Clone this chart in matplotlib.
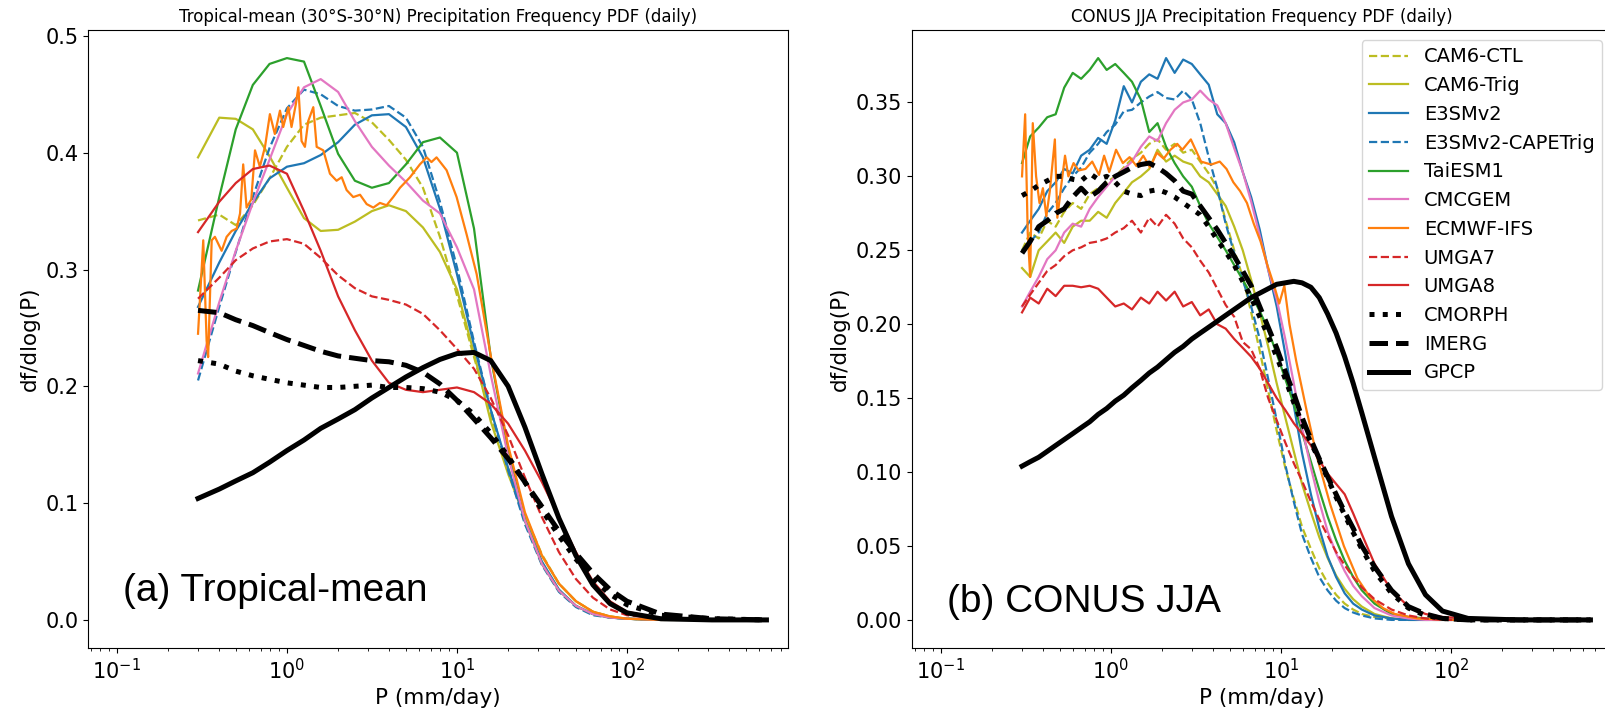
"""Daily precipitation frequency PDFs: tropical mean and CONUS JJA."""
import matplotlib
matplotlib.use("Agg")
import matplotlib.pyplot as plt

# ---- (a) tropical mean, common P grid (mm/day)
p_trop = [0.30, 0.40, 0.50, 0.63, 0.79, 1.0, 1.26, 1.58, 2.0, 2.51, 3.16, 3.98, 5.01, 6.31,
          7.94, 10.0, 12.6, 15.8, 20.0, 25.1, 31.6, 39.8, 50.1, 63.1, 79.4, 100, 158, 316, 661]
trop_cam6_ctl = [0.342, 0.347, 0.338, 0.355, 0.378, 0.405, 0.424, 0.430, 0.432, 0.434, 0.426, 0.411, 0.394, 0.370,
                 0.328, 0.278, 0.225, 0.175, 0.130, 0.090, 0.056, 0.031, 0.016, 0.007, 0.003, 0.001, 0.0, 0.0, 0.0]
trop_cam6_trig = [0.396, 0.430, 0.429, 0.420, 0.397, 0.370, 0.344, 0.333, 0.334, 0.341, 0.350, 0.355, 0.350, 0.336,
                  0.315, 0.283, 0.228, 0.170, 0.125, 0.087, 0.055, 0.031, 0.016, 0.007, 0.003, 0.001, 0.0, 0.0, 0.0]
trop_e3smv2 = [0.268, 0.306, 0.333, 0.357, 0.378, 0.388, 0.391, 0.398, 0.409, 0.424, 0.432, 0.433, 0.422, 0.396,
               0.352, 0.296, 0.235, 0.180, 0.130, 0.085, 0.050, 0.026, 0.012, 0.005, 0.002, 0.001, 0.0, 0.0, 0.0]
trop_e3smv2_cape = [0.205, 0.268, 0.315, 0.362, 0.404, 0.438, 0.454, 0.450, 0.440, 0.436, 0.437, 0.440, 0.430, 0.405,
                    0.358, 0.302, 0.238, 0.180, 0.128, 0.082, 0.047, 0.024, 0.011, 0.004, 0.002, 0.001, 0.0, 0.0, 0.0]
trop_taiesm1 = [0.282, 0.362, 0.420, 0.458, 0.476, 0.481, 0.478, 0.440, 0.399, 0.376, 0.370, 0.374, 0.390, 0.409,
                0.413, 0.400, 0.335, 0.225, 0.145, 0.085, 0.048, 0.025, 0.012, 0.005, 0.002, 0.001, 0.0, 0.0, 0.0]
trop_cmcgem = [0.211, 0.272, 0.316, 0.357, 0.394, 0.433, 0.456, 0.463, 0.452, 0.427, 0.405, 0.389, 0.375, 0.359,
               0.348, 0.319, 0.283, 0.210, 0.140, 0.085, 0.048, 0.025, 0.012, 0.005, 0.002, 0.001, 0.0, 0.0, 0.0]
trop_umga7 = [0.275, 0.293, 0.308, 0.318, 0.324, 0.326, 0.322, 0.310, 0.295, 0.284, 0.277, 0.274, 0.270, 0.262,
              0.248, 0.232, 0.215, 0.190, 0.158, 0.122, 0.088, 0.058, 0.035, 0.019, 0.009, 0.004, 0.001, 0.0, 0.0]
trop_umga8 = [0.332, 0.358, 0.374, 0.386, 0.389, 0.382, 0.350, 0.316, 0.277, 0.248, 0.222, 0.203, 0.197, 0.195,
              0.197, 0.199, 0.195, 0.185, 0.168, 0.145, 0.118, 0.088, 0.058, 0.033, 0.016, 0.007, 0.001, 0.0, 0.0]
trop_cmorph = [0.222, 0.219, 0.213, 0.209, 0.206, 0.203, 0.201, 0.199, 0.199, 0.200, 0.201, 0.199, 0.199, 0.198,
               0.195, 0.188, 0.176, 0.160, 0.140, 0.118, 0.094, 0.072, 0.052, 0.035, 0.022, 0.013, 0.004, 0.001, 0.0]
trop_imerg = [0.265, 0.263, 0.257, 0.252, 0.246, 0.240, 0.235, 0.230, 0.226, 0.224, 0.222, 0.221, 0.218, 0.212,
              0.202, 0.188, 0.172, 0.156, 0.138, 0.118, 0.097, 0.076, 0.057, 0.040, 0.026, 0.016, 0.005, 0.001, 0.0]
trop_gpcp = [0.104, 0.112, 0.119, 0.126, 0.135, 0.145, 0.154, 0.164, 0.172, 0.180, 0.190, 0.199, 0.208, 0.216,
             0.223, 0.228, 0.229, 0.222, 0.200, 0.165, 0.125, 0.087, 0.055, 0.030, 0.014, 0.006, 0.001, 0.0, 0.0]

# ECMWF-IFS is noisy at light rates, so it gets its own finer grid
p_trop_ecmwf = [0.300, 0.322, 0.337, 0.344, 0.361, 0.377, 0.413, 0.442, 0.473, 0.506,
                0.530, 0.553, 0.579, 0.617, 0.649, 0.693, 0.743, 0.794, 0.849, 0.910,
                0.951, 1.019, 1.064, 1.130, 1.167, 1.219, 1.276, 1.334, 1.429, 1.496,
                1.637, 1.791, 1.959, 2.099, 2.244, 2.455, 2.692, 2.944, 3.221, 3.524,
                3.855, 4.217, 4.624, 5.297, 6.053, 6.637, 7.079, 7.586, 8.690, 9.954,
                11.40, 13.06, 15.85, 19.95, 25.12, 31.62, 39.81, 50.12, 63.10, 79.43,
                100, 158.5, 316.2, 660.7]
trop_ecmwf = [0.245, 0.325, 0.239, 0.225, 0.325, 0.328, 0.316, 0.328, 0.333, 0.335,
              0.348, 0.390, 0.353, 0.360, 0.402, 0.388, 0.405, 0.433, 0.416, 0.436,
              0.422, 0.439, 0.422, 0.442, 0.456, 0.410, 0.405, 0.427, 0.439, 0.405,
              0.402, 0.382, 0.376, 0.379, 0.368, 0.362, 0.364, 0.356, 0.353, 0.357,
              0.355, 0.362, 0.370, 0.379, 0.390, 0.396, 0.392, 0.396, 0.385, 0.362,
              0.330, 0.296, 0.225, 0.150, 0.092, 0.055, 0.031, 0.016, 0.007, 0.003,
              0.001, 0.0, 0.0, 0.0]

# ---- (b) CONUS JJA
p_conus = [0.300, 0.335, 0.376, 0.422, 0.473, 0.531, 0.596, 0.668, 0.750, 0.841,
           0.944, 1.06, 1.19, 1.33, 1.50, 1.68, 1.88, 2.11, 2.37, 2.66,
           2.99, 3.35, 3.76, 4.22, 4.73, 5.31, 5.96, 6.68, 7.50, 8.41,
           9.44, 10.6, 11.9, 13.3, 15.0, 16.8, 18.8, 21.1, 23.7, 26.6,
           29.9, 35.5, 44.7, 56.2, 70.8, 89.1, 126, 251, 661]
conus_cam6_ctl = [0.250, 0.262, 0.258, 0.270, 0.266, 0.276, 0.282, 0.278, 0.288, 0.292,
                  0.296, 0.300, 0.306, 0.312, 0.316, 0.322, 0.325, 0.318, 0.322, 0.316,
                  0.318, 0.310, 0.302, 0.292, 0.270, 0.250, 0.232, 0.208, 0.182, 0.155,
                  0.128, 0.103, 0.082, 0.063, 0.048, 0.035, 0.025, 0.017, 0.011, 0.007,
                  0.004, 0.002, 0.001, 0.0, 0.0, 0.0, 0.0, 0.0, 0.0]
conus_cam6_trig = [0.238, 0.232, 0.250, 0.256, 0.262, 0.255, 0.266, 0.270, 0.270, 0.276,
                   0.272, 0.282, 0.289, 0.296, 0.300, 0.305, 0.318, 0.310, 0.314, 0.310,
                   0.308, 0.300, 0.296, 0.288, 0.280, 0.266, 0.250, 0.230, 0.208, 0.185,
                   0.160, 0.137, 0.114, 0.092, 0.073, 0.056, 0.042, 0.030, 0.021, 0.014,
                   0.009, 0.004, 0.001, 0.0, 0.0, 0.0, 0.0, 0.0, 0.0]
conus_e3smv2 = [0.262, 0.270, 0.278, 0.290, 0.296, 0.305, 0.302, 0.314, 0.318, 0.326,
                0.322, 0.338, 0.361, 0.350, 0.364, 0.369, 0.366, 0.380, 0.370, 0.379,
                0.376, 0.369, 0.362, 0.342, 0.336, 0.323, 0.303, 0.286, 0.264, 0.237,
                0.212, 0.180, 0.145, 0.113, 0.085, 0.062, 0.043, 0.029, 0.018, 0.011,
                0.007, 0.003, 0.001, 0.0, 0.0, 0.0, 0.0, 0.0, 0.0]
conus_e3smv2_cape = [0.250, 0.256, 0.262, 0.275, 0.282, 0.292, 0.300, 0.306, 0.316, 0.322,
                     0.330, 0.335, 0.344, 0.345, 0.350, 0.354, 0.357, 0.353, 0.352, 0.358,
                     0.352, 0.336, 0.313, 0.292, 0.268, 0.248, 0.230, 0.212, 0.190, 0.163,
                     0.135, 0.105, 0.080, 0.058, 0.042, 0.029, 0.020, 0.013, 0.008, 0.005,
                     0.003, 0.001, 0.0, 0.0, 0.0, 0.0, 0.0, 0.0, 0.0]
conus_taiesm1 = [0.309, 0.327, 0.333, 0.340, 0.342, 0.360, 0.370, 0.366, 0.372, 0.380,
                 0.372, 0.376, 0.370, 0.364, 0.352, 0.330, 0.336, 0.320, 0.309, 0.300,
                 0.293, 0.280, 0.268, 0.259, 0.250, 0.240, 0.230, 0.220, 0.209, 0.196,
                 0.180, 0.163, 0.146, 0.127, 0.107, 0.088, 0.070, 0.054, 0.040, 0.029,
                 0.020, 0.011, 0.004, 0.002, 0.001, 0.0, 0.0, 0.0, 0.0]
conus_cmcgem = [0.212, 0.222, 0.232, 0.244, 0.250, 0.262, 0.268, 0.266, 0.278, 0.286,
                0.293, 0.300, 0.305, 0.310, 0.320, 0.327, 0.324, 0.336, 0.345, 0.350,
                0.352, 0.358, 0.352, 0.348, 0.336, 0.319, 0.303, 0.283, 0.260, 0.237,
                0.217, 0.190, 0.160, 0.130, 0.103, 0.080, 0.060, 0.045, 0.033, 0.023,
                0.016, 0.008, 0.003, 0.001, 0.0, 0.0, 0.0, 0.0, 0.0]
conus_umga7 = [0.212, 0.220, 0.228, 0.236, 0.240, 0.246, 0.250, 0.252, 0.255, 0.256,
               0.258, 0.262, 0.265, 0.270, 0.262, 0.272, 0.266, 0.274, 0.268, 0.258,
               0.252, 0.243, 0.235, 0.224, 0.213, 0.205, 0.188, 0.183, 0.170, 0.150,
               0.135, 0.120, 0.106, 0.094, 0.080, 0.068, 0.057, 0.046, 0.037, 0.029,
               0.022, 0.014, 0.007, 0.003, 0.001, 0.0, 0.0, 0.0, 0.0]
conus_umga8 = [0.208, 0.218, 0.214, 0.224, 0.219, 0.226, 0.226, 0.225, 0.226, 0.224,
               0.218, 0.212, 0.214, 0.210, 0.218, 0.214, 0.222, 0.216, 0.222, 0.212,
               0.215, 0.206, 0.210, 0.200, 0.197, 0.190, 0.184, 0.178, 0.170, 0.160,
               0.150, 0.142, 0.133, 0.126, 0.118, 0.108, 0.099, 0.092, 0.085, 0.072,
               0.058, 0.038, 0.020, 0.009, 0.004, 0.002, 0.001, 0.0, 0.0]
conus_cmorph = [0.287, 0.290, 0.294, 0.297, 0.300, 0.300, 0.298, 0.297, 0.302, 0.298,
                0.300, 0.296, 0.290, 0.288, 0.287, 0.290, 0.291, 0.289, 0.286, 0.282,
                0.278, 0.274, 0.266, 0.257, 0.249, 0.240, 0.229, 0.218, 0.205, 0.192,
                0.178, 0.163, 0.147, 0.133, 0.120, 0.108, 0.096, 0.083, 0.071, 0.059,
                0.048, 0.033, 0.018, 0.008, 0.003, 0.001, 0.0, 0.0, 0.0]
conus_imerg = [0.248, 0.256, 0.266, 0.270, 0.275, 0.278, 0.286, 0.292, 0.286, 0.290,
               0.296, 0.300, 0.303, 0.306, 0.308, 0.309, 0.306, 0.302, 0.297, 0.290,
               0.288, 0.280, 0.272, 0.264, 0.255, 0.246, 0.236, 0.226, 0.212, 0.198,
               0.184, 0.168, 0.153, 0.137, 0.122, 0.109, 0.097, 0.085, 0.073, 0.062,
               0.050, 0.036, 0.020, 0.009, 0.004, 0.001, 0.0, 0.0, 0.0]
conus_gpcp = [0.104, 0.107, 0.110, 0.114, 0.118, 0.122, 0.126, 0.130, 0.134, 0.139,
              0.143, 0.148, 0.152, 0.157, 0.162, 0.167, 0.171, 0.176, 0.181, 0.185,
              0.190, 0.194, 0.198, 0.202, 0.206, 0.210, 0.214, 0.218, 0.221, 0.224,
              0.227, 0.228, 0.229, 0.228, 0.225, 0.218, 0.207, 0.194, 0.178, 0.160,
              0.140, 0.110, 0.070, 0.038, 0.017, 0.006, 0.001, 0.0, 0.0]

p_conus_ecmwf = [0.300, 0.313, 0.324, 0.335, 0.347, 0.363, 0.380, 0.398, 0.417, 0.437,
                 0.468, 0.484, 0.513, 0.537, 0.562, 0.603, 0.646, 0.708, 0.776, 0.851,
                 0.912, 0.977, 1.072, 1.175, 1.288, 1.413, 1.549, 1.698, 1.862, 2.042,
                 2.239, 2.455, 2.630, 2.951, 3.388, 3.890, 4.365, 4.786, 5.248, 5.754,
                 6.310, 6.918, 7.586, 8.318, 9.120, 9.772, 10.47, 11.22, 12.30, 14.13,
                 16.22, 19.50, 23.44, 28.18, 33.11, 39.81, 46.77, 63.10, 100, 251.2,
                 660.7]
conus_ecmwf = [0.300, 0.342, 0.262, 0.232, 0.336, 0.300, 0.282, 0.292, 0.273, 0.290,
               0.325, 0.272, 0.296, 0.314, 0.300, 0.309, 0.304, 0.305, 0.310, 0.301,
               0.314, 0.303, 0.318, 0.309, 0.313, 0.307, 0.314, 0.306, 0.316, 0.312,
               0.318, 0.322, 0.318, 0.325, 0.310, 0.308, 0.310, 0.305, 0.296, 0.290,
               0.282, 0.268, 0.256, 0.240, 0.226, 0.214, 0.226, 0.200, 0.175, 0.142,
               0.111, 0.078, 0.050, 0.028, 0.016, 0.008, 0.004, 0.001, 0.0, 0.0,
               0.0]

# label, colour, linestyle, linewidth
styles = [
    ("CAM6-CTL", "#bcbd22", "--", 1.6),
    ("CAM6-Trig", "#bcbd22", "-", 1.6),
    ("E3SMv2", "#1f77b4", "-", 1.6),
    ("E3SMv2-CAPETrig", "#1f77b4", "--", 1.6),
    ("TaiESM1", "#2ca02c", "-", 1.6),
    ("CMCGEM", "#e377c2", "-", 1.6),
    ("ECMWF-IFS", "#ff7f0e", "-", 1.6),
    ("UMGA7", "#d62728", "--", 1.6),
    ("UMGA8", "#d62728", "-", 1.6),
    ("CMORPH", "black", ":", 3.6),
    ("IMERG", "black", "--", 3.6),
    ("GPCP", "black", "-", 3.6),
]

trop = [(p_trop, trop_cam6_ctl), (p_trop, trop_cam6_trig), (p_trop, trop_e3smv2),
        (p_trop, trop_e3smv2_cape), (p_trop, trop_taiesm1), (p_trop, trop_cmcgem),
        (p_trop_ecmwf, trop_ecmwf), (p_trop, trop_umga7), (p_trop, trop_umga8),
        (p_trop, trop_cmorph), (p_trop, trop_imerg), (p_trop, trop_gpcp)]
conus = [(p_conus, conus_cam6_ctl), (p_conus, conus_cam6_trig), (p_conus, conus_e3smv2),
         (p_conus, conus_e3smv2_cape), (p_conus, conus_taiesm1), (p_conus, conus_cmcgem),
         (p_conus_ecmwf, conus_ecmwf), (p_conus, conus_umga7), (p_conus, conus_umga8),
         (p_conus, conus_cmorph), (p_conus, conus_imerg), (p_conus, conus_gpcp)]

fig = plt.figure(figsize=(16.06, 7.13), dpi=100)
ax1 = fig.add_axes([88 / 1606, 65 / 713, 700 / 1606, 618 / 713])
ax2 = fig.add_axes([912 / 1606, 65 / 713, 700 / 1606, 618 / 713])

panels = [
    (ax1, trop, "Tropical-mean (30°S-30°N) Precipitation Frequency PDF (daily)", "(a) Tropical-mean", 0.076),
    (ax2, conus, "CONUS JJA Precipitation Frequency PDF (daily)", "(b) CONUS JJA", 0.058),
]
for ax, series, title, tag, ty in panels:
    for (x, y), (lab, col, ls, lw) in zip(series, styles):
        ax.plot(x, y, color=col, ls=ls, lw=lw, label=lab)
    ax.set_xscale("log")
    ax.set_xlim(10 ** -1.17, 10 ** 2.947)
    ax.set_title(title, fontsize=12)
    ax.set_xlabel("P (mm/day)", fontsize=15.5)
    ax.set_ylabel("df/dlog(P)", fontsize=15.5)
    ax.tick_params(labelsize=15)
    ax.text(0.05, ty, tag, transform=ax.transAxes, fontsize=28, family="Liberation Sans")

ax2.legend(loc="upper right", fontsize=14)

fig.savefig("out.png", dpi=100)
